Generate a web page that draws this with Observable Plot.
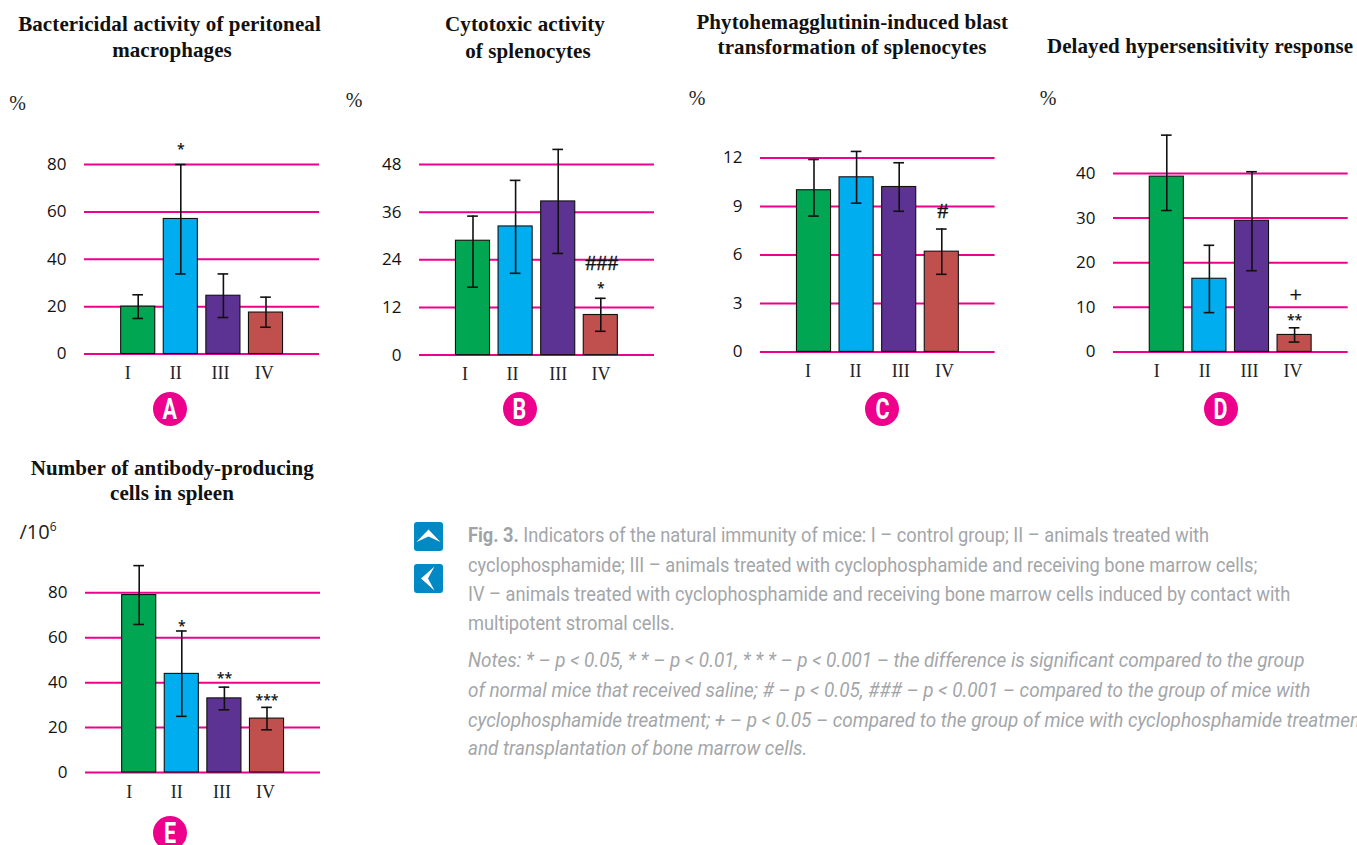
<!DOCTYPE html>
<html lang="en">
<head>
<meta charset="utf-8">
<title>Fig. 3</title>
<script src="https://cdn.jsdelivr.net/npm/d3@7"></script>
<script src="https://cdn.jsdelivr.net/npm/@observablehq/plot@0.6"></script>
<style>
  html,body{margin:0;padding:0;background:#fff;width:1357px;height:845px;overflow:hidden}
  #page{position:relative;width:1357px;height:845px;overflow:hidden}
  .abs{position:absolute;white-space:nowrap}
  .t{font:bold 21px "Liberation Serif",serif;color:#111;transform:translate(-50%,-50%);letter-spacing:.1px}
  .u{font:20px "Liberation Serif",serif;color:#222;transform:translate(-50%,-50%)}
  .badge{width:34px;height:34px;border-radius:50%;background:#ec008c;color:#fff;transform:translate(-50%,-50%);
         display:flex;align-items:center;justify-content:center}
  .badge span{font:bold 29px Roboto,sans-serif;transform:scaleX(.74)}
  .c{font:21px Roboto,sans-serif;color:#a3a6a9;transform-origin:left center;transform:translateY(-50%) scaleX(.868)}
  .n{font-style:italic;transform:translateY(-50%) scaleX(.9)}
  .c b{font-weight:700;color:#a0a3a6}
  svg.plot-panel{position:absolute}
</style>
</head>
<body>
<div id="page"></div>
<script>
const categories = ["I", "II", "III", "IV"];
const barColors = ["#00a651", "#00aeef", "#5c3292", "#c0504d"];

const valuesA = [20, 57, 24.6, 17.5];
const lowA = [15, 33.8, 15.4, 11.3];
const highA = [25, 80, 33.8, 24];
const ticksA = [0, 20, 40, 60, 80];

const valuesB = [28.8, 32.4, 38.7, 10.1];
const lowB = [17.1, 20.6, 25.6, 6];
const highB = [35, 44, 51.8, 14.3];
const ticksB = [0, 12, 24, 36, 48];

const valuesC = [10, 10.8, 10.2, 6.2];
const lowC = [8.4, 9.2, 8.7, 4.8];
const highC = [11.9, 12.4, 11.7, 7.6];
const ticksC = [0, 3, 6, 9, 12];

const valuesD = [39.3, 16.4, 29.4, 3.8];
const lowD = [31.7, 8.8, 18.2, 2.2];
const highD = [48.6, 23.9, 40.4, 5.4];
const ticksD = [0, 10, 20, 30, 40];

const valuesE = [79, 43.9, 33, 24];
const lowE = [65.9, 25, 27.9, 19];
const highE = [92.1, 63, 38, 29];
const ticksE = [0, 20, 40, 60, 80];

const marksA = [["II", "*", 87.9]];
const marksB = [["IV", "###", 23.2], ["IV", "*", 17.9]];
const marksC = [["IV", "#", 8.7]];
const marksD = [["IV", "+", 12.7], ["IV", "**", 7.9]];
const marksE = [["II", "*", 66.9], ["III", "**", 43.6], ["IV", "***", 33.7]];

const panels = [
  {values: valuesA, low: lowA, high: highA, ticks: ticksA, notes: marksA,
   gridL: 84, gridR: 319, center: 137.7, y0: 353.5, yTop: 164, labelDx: [-10.4, -5, -3, -1.8], top: 120},
  {values: valuesB, low: lowB, high: highB, ticks: ticksB, notes: marksB,
   gridL: 418.7, gridR: 653.7, center: 472.2, y0: 354.6, yTop: 164, labelDx: [-8, -3, 0, 0.3], top: 120},
  {values: valuesC, low: lowC, high: highC, ticks: ticksC, notes: marksC,
   gridL: 759.7, gridR: 994.3, center: 813.2, y0: 351.4, yTop: 157.4, labelDx: [-6, -1, 1.6, 2.7], top: 120},
  {values: valuesD, low: lowD, high: highD, ticks: ticksD, notes: marksD,
   gridL: 1113, gridR: 1347.7, center: 1166.3, y0: 351.4, yTop: 173, labelDx: [-10, -4.6, -2.6, -1.5], top: 120},
  {values: valuesE, low: lowE, high: highE, ticks: ticksE, notes: marksE,
   gridL: 85.3, gridR: 320.3, center: 139, y0: 772, yTop: 592.3, labelDx: [-10, -5, -2.5, -1.5], top: 550}
];

const titles = [
  ["Bactericidal activity of peritoneal", 169.5, 24], ["macrophages", 172, 50],
  ["Cytotoxic activity", 525, 24], ["of splenocytes", 528, 51],
  ["Phytohemagglutinin-induced blast", 852.3, 22], ["transformation of splenocytes", 852, 47],
  ["Delayed hypersensitivity response", 1200, 46],
  ["Number of antibody-producing", 172.3, 468], ["cells in spleen", 172, 493]
];
const units = [["%", 17.5, 103], ["%", 354, 100], ["%", 697, 98], ["%", 1048, 98]];
const badges = [["A", 169.7, 409.3], ["B", 519.7, 409.3], ["C", 882, 409.3], ["D", 1220.7, 409.3], ["E", 169.7, 833.3]];
const captionLines = [
  ["<b>Fig. 3.</b> Indicators of the natural immunity of mice: I – control group; II – animals treated with", 535],
  ["cyclophosphamide; III – animals treated with cyclophosphamide and receiving bone marrow cells;", 565],
  ["IV – animals treated with cyclophosphamide and receiving bone marrow cells induced by contact with", 594],
  ["multipotent stromal cells.", 623]
];
const noteLines = [
  ["Notes: * – p &lt; 0.05, * * – p &lt; 0.01, * * * – p &lt; 0.001 – the difference is significant compared to the group", 660],
  ["of normal mice that received saline; # – p &lt; 0.05, ### – p &lt; 0.001 – compared to the group of mice with", 690],
  ["cyclophosphamide treatment; + – p &lt; 0.05 – compared to the group of mice with cyclophosphamide treatment", 719.5],
  ["and transplantation of bone marrow cells.", 748]
];

const page = document.getElementById("page");
function addDiv(cls, html, x, y) {
  const d = document.createElement("div");
  d.className = "abs " + cls;
  d.innerHTML = html;
  d.style.left = x + "px";
  d.style.top = y + "px";
  page.appendChild(d);
  return d;
}

const STEP = 42.6, PAD = 0.2, MAGENTA = "#ec008c";
const sans = "'Open Sans', sans-serif", serif = "'Liberation Serif', serif";

function drawPanel(p) {
  const left = p.gridL - 70;
  const right = p.gridR + 10;
  const rows = categories.map((c, i) => ({group: c, value: p.values[i], low: p.low[i], high: p.high[i]}));
  const notes = p.notes.map(([group, text, y]) => ({group, text, y}));
  const x0 = p.center - left - STEP / 2 - STEP * PAD / 2;
  const x1 = x0 + STEP * (categories.length + PAD);
  const plot = Plot.plot({
    width: right - left,
    height: 320,
    marginLeft: p.gridL - left,
    marginRight: right - p.gridR,
    marginTop: 0,
    marginBottom: 0,
    style: {background: "transparent", overflow: "visible"},
    x: {domain: categories, range: [x0, x1], padding: PAD, align: 0.5, round: false, axis: null},
    y: {domain: [0, p.ticks[p.ticks.length - 1]], range: [p.y0 - p.top, p.yTop - p.top], axis: null},
    color: {domain: categories, range: barColors},
    marks: [
      Plot.ruleY(p.ticks, {stroke: MAGENTA, strokeWidth: 2}),
      Plot.axisY({ticks: p.ticks, tickSize: 0, tickPadding: 18, label: null, fontSize: 17, fontFamily: sans, fill: "#111"}),
      Plot.barY(rows, {x: "group", y: "value", fill: "group", stroke: "#111", strokeWidth: 1.1}),
      Plot.ruleX(rows, {x: "group", y1: "low", y2: "high", stroke: "#111", strokeWidth: 1.6}),
      Plot.tickY(rows, {x: "group", y: "low", stroke: "#111", strokeWidth: 1.6, insetLeft: 11.7, insetRight: 11.7}),
      Plot.tickY(rows, {x: "group", y: "high", stroke: "#111", strokeWidth: 1.6, insetLeft: 11.7, insetRight: 11.7}),
      ...categories.map((c, i) => Plot.text([c], {
        x: d => d, y: () => 0, dx: p.labelDx[i], dy: 19.5,
        fontSize: 18, fontFamily: serif, fill: "#222", text: d => d
      })),
      Plot.text(notes.filter(d => d.text.startsWith("*")), {
        x: "group", y: "y", text: "text", dy: 4, fontSize: 14, fontWeight: 600, fontFamily: sans, fill: "#111"
      }),
      Plot.text(notes.filter(d => !d.text.startsWith("*")), {
        x: "group", y: "y", text: "text", dx: 1, fontSize: 22, fontFamily: serif, fill: "#111", stroke: "#111", strokeWidth: 0.35
      })
    ]
  });
  plot.classList.add("plot-panel");
  plot.style.left = left + "px";
  plot.style.top = p.top + "px";
  page.appendChild(plot);
}
panels.forEach(drawPanel);

titles.forEach(([s, x, y]) => addDiv("t", s, x, y));
units.forEach(([s, x, y]) => addDiv("u", s, x, y));
addDiv("u", '<span style="font:20px \'Open Sans\',sans-serif">/10<sup style="font-size:12px">6</sup></span>', 38, 531);
badges.forEach(([s, x, y]) => addDiv("badge", "<span>" + s + "</span>", x, y));
captionLines.forEach(([s, y]) => addDiv("c", s, 468, y));
noteLines.forEach(([s, y]) => addDiv("c n", s, 468, y));

addDiv("", `<svg width="29" height="29" viewBox="0 0 29 29" style="display:block"><rect width="29" height="29" rx="3" fill="#0089c4"/><path d="M2.5 20 L14.5 7.5 L26.5 20 L14.5 14.5Z" fill="#fff"/></svg>`, 414, 521.5);
addDiv("", `<svg width="29" height="29" viewBox="0 0 29 29" style="display:block"><rect width="29" height="29" rx="3" fill="#0089c4"/><path d="M20.5 2.5 L7 14.5 L20.5 26.5 L14 14.5Z" fill="#fff"/></svg>`, 414, 564);
</script>
</body>
</html>
